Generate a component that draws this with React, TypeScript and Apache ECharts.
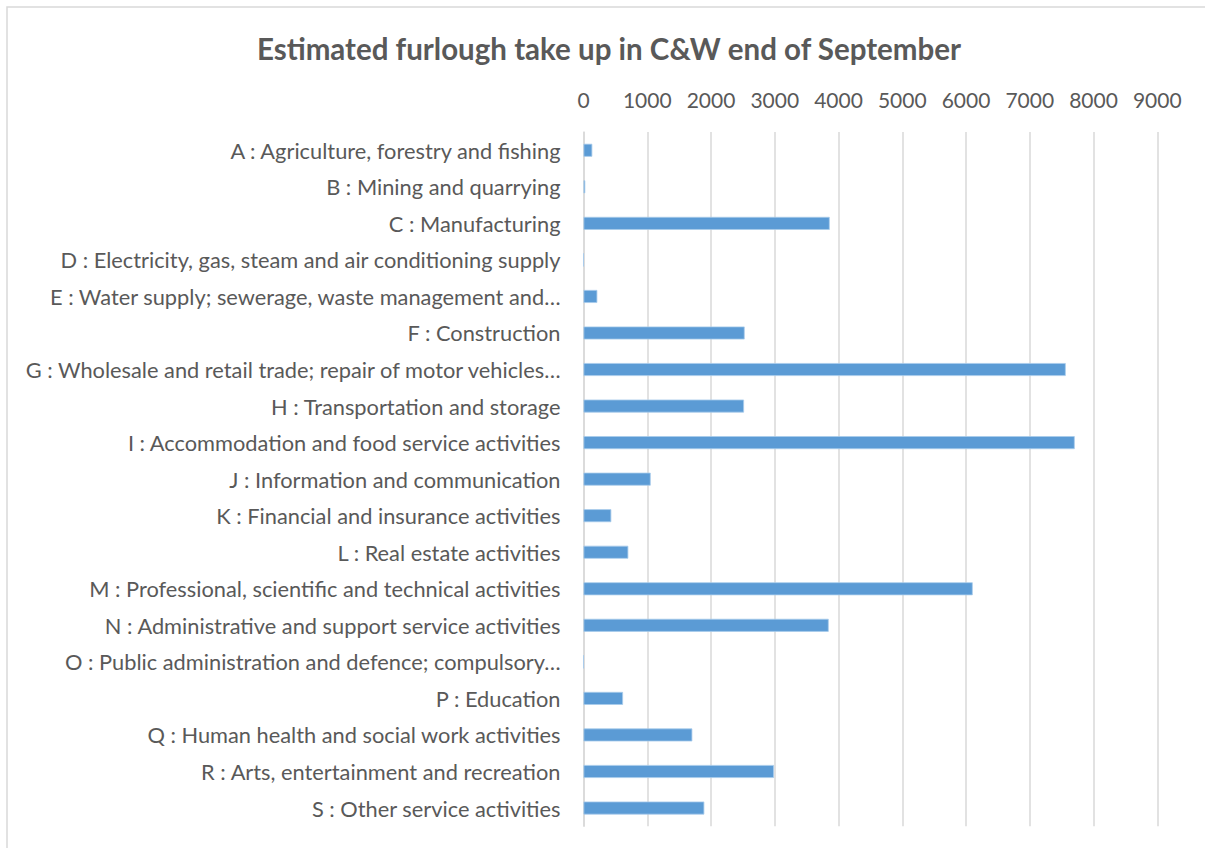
import React, { useEffect, useRef } from "react";
import * as echarts from "echarts";

const titleText = "Estimated furlough take up in C&W end of September";

const categories = [
  "A : Agriculture, forestry and fishing",
  "B : Mining and quarrying",
  "C : Manufacturing",
  "D : Electricity, gas, steam and air conditioning supply",
  "E : Water supply; sewerage, waste management and…",
  "F : Construction",
  "G : Wholesale and retail trade; repair of motor vehicles…",
  "H : Transportation and storage",
  "I : Accommodation and food service activities",
  "J : Information and communication",
  "K : Financial and insurance activities",
  "L : Real estate activities",
  "M : Professional, scientific and technical activities",
  "N : Administrative and support service activities",
  "O : Public administration and defence; compulsory…",
  "P : Education",
  "Q : Human health and social work activities",
  "R : Arts, entertainment and recreation",
  "S : Other service activities",
];

const values = [
  138, 28, 3862, 0, 217, 2528, 7564, 2518, 7705, 1054, 436, 703, 6105, 3846, 0,
  620, 1707, 2988, 1895,
];

const axisMin = 0;
const axisMax = 9000;
const axisInterval = 1000;

export default function App() {
  const ref = useRef<HTMLDivElement>(null);

  useEffect(() => {
    if (!ref.current) return;
    const chart = echarts.init(ref.current, undefined, { renderer: "svg" });
    const font = "Lato, 'Open Sans', sans-serif";
    chart.setOption({
      animation: false,
      backgroundColor: "#ffffff",
      textStyle: { fontFamily: font },
      graphic: [
        {
          type: "rect",
          shape: { x: 7, y: 7, width: 1300, height: 1000 },
          style: { fill: "none", stroke: "#d9d9d9", lineWidth: 1.5 },
          silent: true,
          z: -10,
        },
      ],
      title: {
        text: titleText,
        left: 604,
        top: 28,
        textAlign: "center",
        textStyle: {
          fontFamily: font,
          fontSize: 29.5,
          fontWeight: "bold",
          color: "#595959",
        },
      },
      grid: {
        left: 583.5,
        right: 47.7,
        top: 132,
        bottom: 21.7,
        containLabel: false,
      },
      xAxis: {
        type: "value",
        position: "top",
        min: axisMin,
        max: axisMax,
        interval: axisInterval,
        axisLine: { show: false },
        axisTick: { show: false },
        axisLabel: {
          color: "#595959",
          fontSize: 21,
          fontFamily: font,
          margin: 22,
          formatter: (v: number) => String(v),
        },
        splitLine: { lineStyle: { color: "#d9d9d9", width: 1.5 } },
      },
      yAxis: {
        type: "category",
        data: categories,
        inverse: true,
        axisLine: { show: true, lineStyle: { color: "#d9d9d9", width: 1.5 } },
        axisTick: { show: false },
        axisLabel: {
          color: "#595959",
          fontSize: 21.8,
          fontFamily: font,
          margin: 23,
          padding: [0, 0, 2, 0],
        },
      },
      series: [
        {
          type: "bar",
          data: values,
          barWidth: 13,
          itemStyle: {
            color: "#5b9bd5",
            borderColor: "#a8cbeb",
            borderWidth: 0.8,
          },
        },
      ],
    });
    return () => chart.dispose();
  }, []);

  return (
    <div
      ref={ref}
      style={{ position: "fixed", left: 0, top: 0, width: 1205, height: 848 }}
    />
  );
}
